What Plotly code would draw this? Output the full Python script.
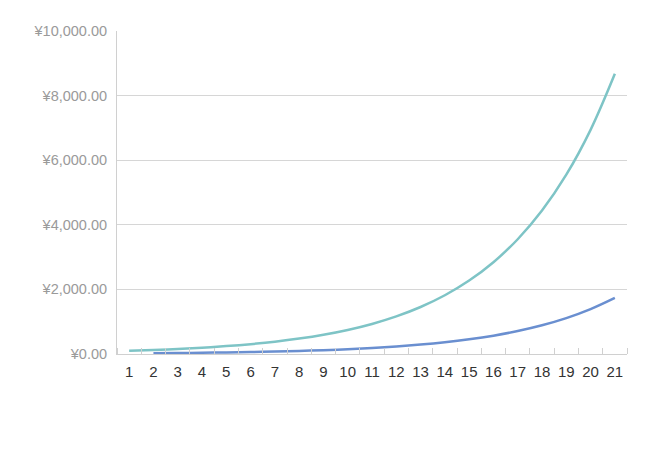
import plotly.graph_objects as go

periods = list(range(1, 22))
series_a_x = periods
series_a = [100, 125, 156, 195, 244, 305, 381, 477, 596, 745, 931, 1164, 1455,
            1819, 2274, 2842, 3553, 4441, 5551, 6939, 8674]
series_b_x = periods[1:]
series_b = [25, 31, 39, 49, 61, 76, 95, 119, 149, 186, 233, 291, 364, 455,
            568, 710, 888, 1110, 1388, 1735]
y_ticks = [0, 2000, 4000, 6000, 8000, 10000]
y_tick_labels = ["¥0.00", "¥2,000.00", "¥4,000.00", "¥6,000.00", "¥8,000.00", "¥10,000.00"]

fig = go.Figure()
fig.add_trace(go.Scatter(x=series_a_x, y=series_a, mode="lines",
                         line=dict(color="#7ec4c6", width=2.5, shape="spline"),
                         name="A"))
fig.add_trace(go.Scatter(x=series_b_x, y=series_b, mode="lines",
                         line=dict(color="#6a8fd0", width=2.5, shape="spline"),
                         name="B"))

fig.update_layout(
    width=660, height=455,
    margin=dict(l=109, r=41, t=23, b=109),
    paper_bgcolor="white", plot_bgcolor="white",
    showlegend=False,
    font=dict(family="Liberation Sans, Arial, sans-serif"),
)
fig.update_xaxes(
    range=[0.5, 21.5], tickmode="linear", tick0=1, dtick=1,
    showgrid=False, zeroline=False, showline=True, linecolor="#d0d0d0", linewidth=1,
    ticks="outside", ticklen=4, tickcolor="rgba(0,0,0,0)",
    tickfont=dict(size=15, color="#333333"),
    minor=dict(ticks="inside", tick0=0.5, dtick=1, ticklen=6, tickcolor="#d0d0d0",
               showgrid=False),
)
fig.update_yaxes(
    range=[0, 10000], tickvals=y_ticks, ticktext=y_tick_labels,
    showgrid=True, gridcolor="#d6d6d6", gridwidth=1, zeroline=False,
    showline=True, linecolor="#d0d0d0", linewidth=1,
    ticks="outside", ticklen=6, tickcolor="rgba(0,0,0,0)",
    tickfont=dict(size=14.5, color="#9a9a9a"),
)
fig.write_html("out.html")
